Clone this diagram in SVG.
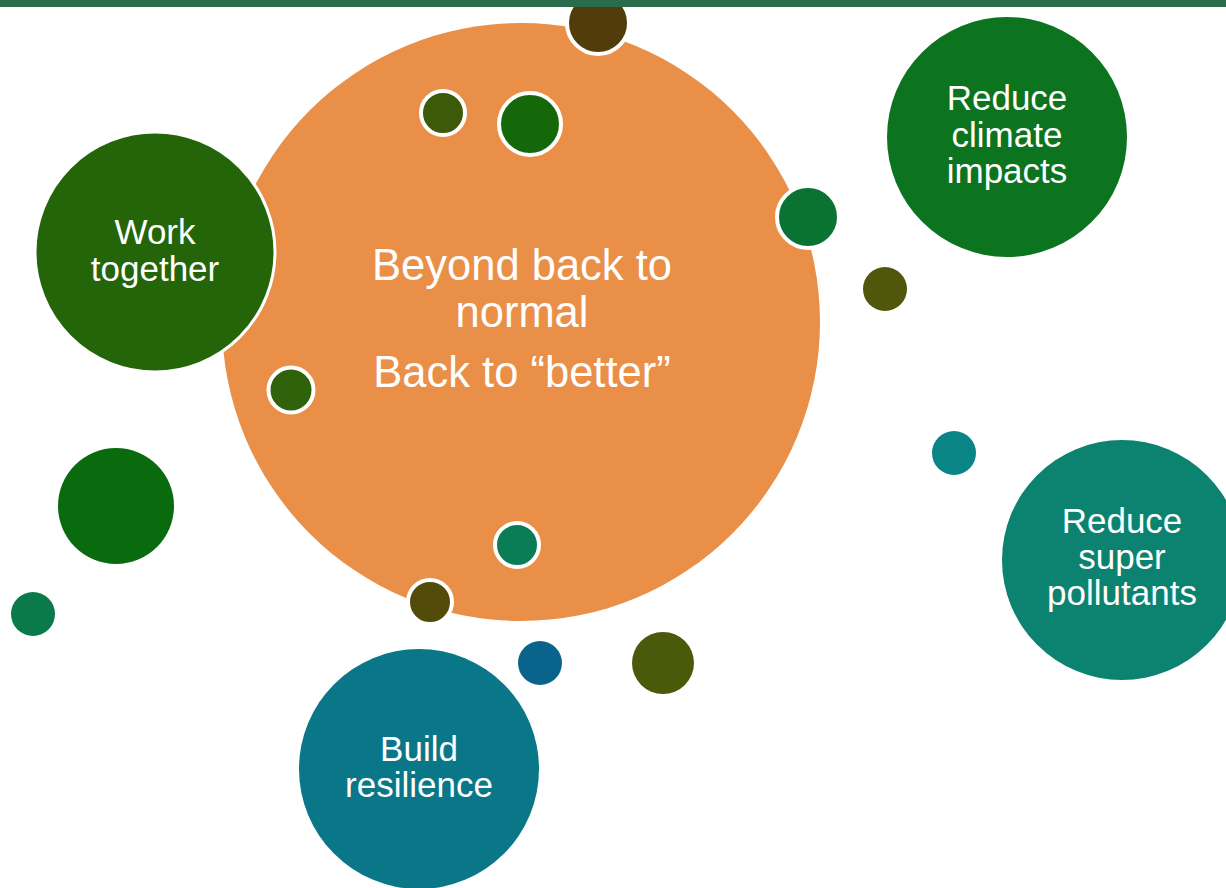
<svg xmlns="http://www.w3.org/2000/svg" width="1226" height="888" viewBox="0 0 1226 888">
<style>
.ring{stroke:#ffffff;stroke-width:4}
.big{stroke:#ffffff;stroke-width:3}
.lbl{font-family:"Liberation Sans",Arial,sans-serif;font-size:35px;fill:#ffffff;text-anchor:middle}
.ctr{font-family:"Liberation Sans",Arial,sans-serif;font-size:43.5px;fill:#ffffff;text-anchor:middle}
</style>
<rect x="0" y="0" width="1226" height="888" fill="#ffffff"/>
<g id="center">
<circle cx="521" cy="322" r="299" fill="#EA8F48"/>
<text class="ctr" x="522" y="280">Beyond back to</text>
<text class="ctr" x="522" y="327">normal</text>
<text class="ctr" x="522" y="387">Back to “better”</text>
</g>
<g id="work-together">
<circle class="big" cx="155" cy="252" r="120" fill="#24650A"/>
<text class="lbl" x="155" y="244">Work</text>
<text class="lbl" x="155" y="280.5">together</text>
</g>
<g id="reduce-climate">
<circle cx="1007" cy="137" r="120" fill="#0C731F"/>
<text class="lbl" x="1007" y="110">Reduce</text>
<text class="lbl" x="1007" y="147">climate</text>
<text class="lbl" x="1007" y="183">impacts</text>
</g>
<g id="reduce-super">
<circle cx="1122" cy="560" r="120" fill="#0C8370"/>
<text class="lbl" x="1122" y="533">Reduce</text>
<text class="lbl" x="1122" y="569">super</text>
<text class="lbl" x="1122" y="605">pollutants</text>
</g>
<g id="build-resilience">
<circle cx="419" cy="769" r="120" fill="#0A7789"/>
<text class="lbl" x="419" y="761">Build</text>
<text class="lbl" x="419" y="797">resilience</text>
</g>
<g id="dots">
<circle class="ring" cx="598" cy="23" r="31" fill="#523D0A"/>
<circle class="ring" cx="443" cy="113" r="22" fill="#3C5A0A"/>
<circle class="ring" cx="530" cy="124" r="31" fill="#14680A"/>
<circle class="ring" cx="291" cy="390" r="22.5" fill="#2F620A"/>
<circle class="ring" cx="808" cy="217" r="31" fill="#0A7332"/>
<circle cx="885" cy="289" r="22" fill="#50570A"/>
<circle cx="954" cy="453" r="22" fill="#0A8585"/>
<circle class="ring" cx="517" cy="545" r="22" fill="#0A7D57"/>
<circle class="ring" cx="430" cy="602" r="22" fill="#524B0A"/>
<circle cx="540" cy="663" r="22" fill="#0A638A"/>
<circle cx="663" cy="663" r="31" fill="#4A5A0A"/>
<circle cx="116" cy="506" r="58" fill="#0A6B0E"/>
<circle cx="33" cy="614" r="22" fill="#0A7A4A"/>
</g>
<g id="connectors"></g>
<rect id="topbar" x="0" y="0" width="1226" height="7" fill="#296B4B"/>
</svg>
